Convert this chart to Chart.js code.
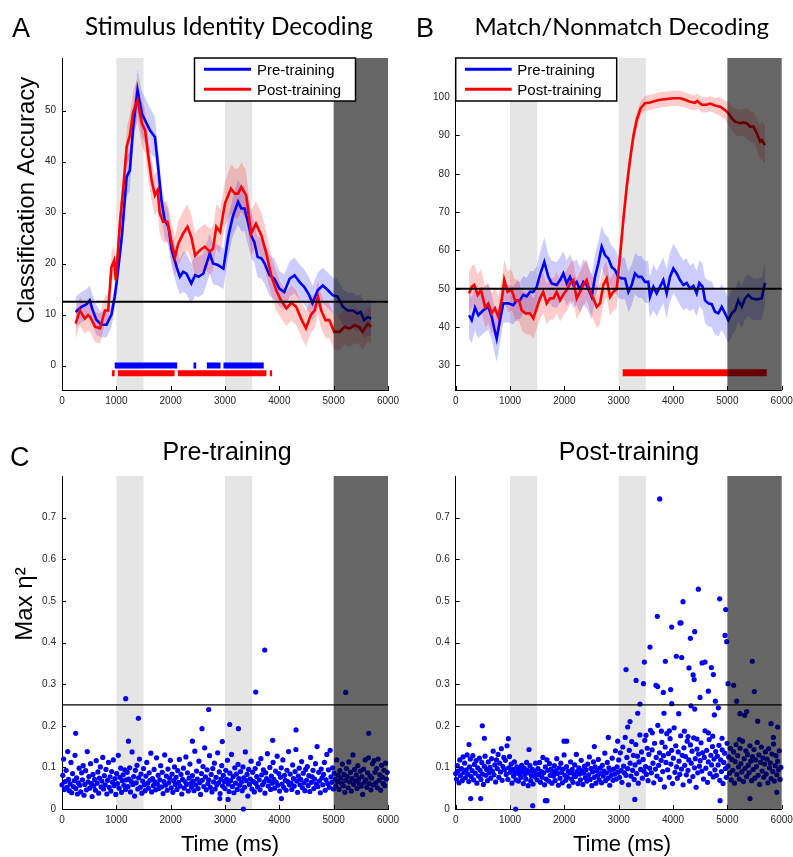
<!DOCTYPE html>
<html>
<head>
<meta charset="utf-8">
<script src="https://cdn.jsdelivr.net/npm/chart.js@4.4.1/dist/chart.umd.min.js"></script>
<style>
  body { margin: 0; background: #fff; }
  #wrap { position: relative; width: 793px; height: 857px; overflow: hidden; }
  canvas { position: absolute; }
</style>
</head>
<body>
<div id="wrap">
  <canvas id="chartA" width="400" height="430" style="left:0;top:0"></canvas>
  <canvas id="chartB" width="393" height="430" style="left:400px;top:0"></canvas>
  <canvas id="chartC1" width="400" height="437" style="left:0;top:420px"></canvas>
  <canvas id="chartC2" width="393" height="437" style="left:400px;top:420px"></canvas>
</div>
<script>
// trial epochs (ms): sample / test stimulus, then the late period
const stimEpochs = [[1000, 1500], [3000, 3500]];
const lateEpoch = [5000, 6000];
const seriesNames = ['Pre-training', 'Post-training'];

// A - stimulus identity decoding (% correct), mean and band half-width
const idPreTime = [250,360,450,510,560,630,720,820,910,970,1010,1100,1190,1250,1310,1390,1470,1560,1620,1710,
  1770,1830,1890,1960,2020,2110,2170,2230,2290,2380,2450,2510,2600,2660,2720,2780,2870,2970,3060,3140,
  3240,3300,3360,3420,3480,3540,3600,3670,3730,3820,3910,4000,4090,4190,4280,4370,4460,4550,4610,4710,
  4800,4890,4980,5070,5170,5260,5350,5440,5500,5560,5630,5690];
const idPreAcc = [10.5,11.5,12,12.8,11,9,8,8,10,13.5,16.7,25.2,37,38.3,46.8,54,49.4,47.4,46.1,44.8,
  38.9,32.4,28.5,27.2,22.6,19.3,17.4,18.4,18,16.1,17.7,17.4,18,20,22,20,19.7,19,25.2,29.1,
  32.1,30.8,30.8,28.2,25.5,24.2,21.3,21,20,17.7,17,15.1,14.4,17,17.7,16.4,15.4,13.8,12.2,14.8,
  15.7,14.8,13.8,13.5,11.5,10.8,10.8,10.2,10.5,8.9,9.5,9.2];
const idPreErr = [3,3,3,3,3,3,2.5,2.5,2.5,2.5,3,3,4,4,4,4.5,4.5,4.5,4.5,4,
  4,3.5,3.5,3.5,3.5,3.5,3.5,4,4,4,4,4,4,4,4,4,4,4,4,4,
  4.5,4.5,4.5,4.5,4.5,4,4,4,4,4,4,3.5,3.5,3.5,3.5,3.5,3.5,3.5,3.5,3.5,
  3.5,3.5,3.5,3.5,3.5,3.5,3.5,3.5,3.5,3.5,3.5,3.5];

const idPostTime = [250,330,420,480,520,610,700,790,850,910,960,990,1070,1130,1190,1250,1310,1390,1470,1530,
  1590,1650,1710,1760,1800,1860,1940,2020,2080,2140,2230,2310,2380,2450,2540,2630,2720,2780,2840,2910,
  3000,3110,3180,3240,3300,3390,3480,3570,3670,3760,3850,3940,4030,4130,4220,4310,4400,4490,4580,4650,
  4710,4770,4850,4920,5010,5110,5200,5290,5380,5470,5530,5630,5690];
const idPostAcc = [8.2,10.8,9.2,9.9,9.5,7.6,7.3,10.8,10.8,19.3,20.6,16.7,28.5,35,42.9,45.2,49.7,52,47.5,46.1,
  40.9,36.3,33.4,34.4,29.8,28.2,28.2,23.9,21.3,23.9,25.9,27.2,25.2,21.6,22.6,23.3,22.3,22.9,27.2,26.2,
  31.8,34.7,33.7,33.7,35,33.4,25.9,27.8,25.5,22,17.7,14.8,12.8,11.2,12.3,11.5,9.2,7.3,9.9,10.8,
  13.5,10.8,8.9,8.9,6.6,6.6,7.6,7.2,7.9,7.6,6.6,8.2,7.6];
const idPostErr = [3,3,3,3,3,3,3,3,3,3,3,3,3.5,4,4,4.5,4.5,4.5,4.5,4.5,
  4.5,4,4,4,4,4,4,4,4,4.5,4.5,4.5,4.5,4.5,4.5,4.5,4.5,4.5,4.5,4.5,
  4.5,5,5,5,5,5,4.5,4.5,4.5,4.5,4,4,3.5,3.5,3.5,3.5,3.5,3.5,3.5,3.5,
  3.5,3.5,3.5,3.5,3.5,3.5,3.5,3.5,3.5,3.5,3.5,3.5,3.5];

const idChance = 12.5;
// significant decoding periods (ms)
const idPreSig = [[970, 2120], [2420, 2470], [2666, 2917], [2972, 3713]];
const idPostSig = [[919, 970], [1030, 2072], [2133, 3763], [3824, 3867]];

// B - match/nonmatch decoding (% correct)
const mnPreTime = [245,294,355,417,508,600,662,723,754,815,876,968,1060,1122,1183,1244,1306,1367,1429,1490,
  1551,1631,1705,1766,1858,1920,1981,2043,2104,2165,2227,2288,2349,2411,2503,2564,2625,2687,2748,2809,
  2871,2932,2993,3055,3116,3178,3239,3300,3361,3423,3484,3545,3576,3638,3699,3760,3821,3883,3944,4006,
  4067,4128,4190,4251,4312,4374,4435,4483,4546,4588,4649,4712,4773,4834,4896,4957,5018,5080,5141,5202,
  5264,5325,5386,5448,5540,5632,5693];
const mnPreAcc = [43.1,41.8,45.1,43.1,44.4,45.3,42.7,38.8,37,41.8,46.2,46.2,45.7,47,47,48.4,48,49.2,49.2,50.5,
  53.6,57,53.1,51.4,51,52.3,54,51.4,53.1,51,51.8,49.7,51.8,51,47.9,53.1,56.6,61,58.8,57.9,
  55.7,54.9,53.1,52.7,52.7,49.2,51,54,53.1,53.1,51.8,51.8,47.9,50.5,48.8,50.5,52.3,48.8,53.1,55.3,
  54,52.3,51,51.5,50.1,50.8,48.8,51.5,50.5,47,46.2,46,44,43.6,45.3,43.6,41.8,43.6,44.4,47,
  45.3,47.5,48.4,47.5,47.2,47.5,51.6];
const mnPreErr = [6,6,6,6,6,6,6,6,6,6,5,5,5,5,5,5,5,5.5,5.5,5.5,
  6,6.5,6,6,6,6,6,6,6,6,6,6,6,6,6,6,6,5.5,5.5,5.5,
  5.5,5.5,5.5,5.5,5.5,5.5,5.5,5.5,5.5,5.5,5.5,5.5,5.5,6,6,6,6,6.5,6.5,6.5,
  6.5,6.5,6.5,6.5,6,6,6,6,6,6,6,6,6,6,6,6,6,6,5.5,5.5,
  5.5,5.5,5.5,5.5,5.5,5.5,5.5];

const mnPostTime = [245,294,342,405,466,539,600,662,723,784,847,894,957,1031,1091,1165,1215,1288,1367,1429,
  1490,1551,1612,1675,1736,1797,1859,1920,1981,2043,2104,2165,2227,2288,2349,2411,2472,2533,2595,2656,
  2717,2779,2840,2901,2963,3024,3085,3147,3208,3269,3331,3405,3484,3576,3668,3760,3883,4006,4128,4220,
  4312,4404,4447,4528,4620,4681,4773,4865,4957,5018,5080,5141,5233,5294,5356,5417,5478,5540,5601,5632,
  5693];
const mnPostAcc = [48.8,50.5,51,48.4,49.7,45.3,46.2,43.6,44.9,42.7,47,52.3,49.2,49.7,47,47,44.4,43.6,43.6,42.3,
  44.9,47.5,49.2,46.2,47.5,47.5,49.2,47,48.5,49.7,51.4,52.3,47.5,49.2,51,52.3,49.2,47.5,45.3,46.2,
  51,52.7,47.9,49.2,50,58.4,67.9,76.6,83.6,89.7,94,97.1,98.4,98.6,99,99.3,99.5,99.7,99.7,99.3,
  98.8,98.5,99,98,98,98.3,97.8,97.5,96.6,95.8,94.5,93.6,93.2,93.4,93.2,92.3,92.3,90.6,88.4,88.8,
  87.5];
const mnPostErr = [5.5,5.5,5.5,5.5,5.5,5.5,5.5,5.5,5.5,5.5,5.5,5.5,5.5,5.5,5.5,5.5,5.5,5.5,5.5,5.5,
  5.5,5.5,5.5,5.5,5.5,5.5,5.5,5.5,5.5,5.5,5.5,5.5,5.5,5.5,5.5,5.5,5.5,5.5,5.5,5.5,
  5,5,5,5,5,5,4,4,3.5,3,2.5,2,2,2,2,2,2,2,2,2,
  2,2,2,2,2,2,2,2.5,2.5,3,3,3.5,3.5,3.5,4,4,4,4,4.5,5,
  5];

const mnChance = 50;
const mnPostSig = [[3074, 5724]];

// C - max eta squared per time bin (one value every 15 ms from 0 ms)
const etaStep = 15;
const etaPre = [
  .058,.081,.120,.047,.066,.093,.052,.138,.071,.044,.060,.112,.039,.085,.054,.068,.129,.049,.075,.036,
  .063,.098,.057,.041,.087,.070,.104,.033,.059,.092,.046,.138,.065,.078,.050,.109,.061,.030,.083,.055,
  .071,.045,.116,.062,.089,.038,.074,.101,.053,.067,.124,.048,.080,.058,.095,.036,.069,.112,.052,.077,
  .043,.090,.064,.118,.056,.073,.035,.085,.061,.129,.050,.076,.098,.040,.068,.082,.057,.094,.047,.070,
  .088,.054,.072,.099,.041,.066,.137,.059,.078,.031,.093,.063,.105,.048,.075,.120,.052,.084,.038,.067,
  .097,.058,.044,.079,.112,.062,.050,.087,.069,.134,.041,.073,.056,.095,.065,.046,.123,.060,.081,.049,
  .070,.104,.053,.088,.037,.066,.130,.057,.079,.045,.096,.063,.074,.117,.051,.084,.040,.068,.101,.059,
  .076,.047,.092,.064,.119,.055,.083,.036,.071,.098,.050,.066,.125,.059,.087,.043,.074,.108,.061,.052,
  .080,.067,.044,.139,.058,.091,.072,.049,.115,.063,.035,.085,.069,.102,.054,.147,.077,.046,.094,.061,
  .070,.128,.052,.083,.041,.097,.065,.110,.048,.076,.058,.135,.063,.089,.037,.072,.104,.055,.081,.066,
  .049,.093,.071,.117,.060,.042,.086,.068,.131,.054,.078,.039,.099,.062,.084,.047,.107,.073,.057,.090,
  .064,.044,.101,.075,.052,.137,.068,.083,.031,.095,.059,.072,.115,.048,.088,.066,.041,.097,.061,.078,
  .053,.109,.070,.046,.121,.082,.058,.094,.065,.038,.087,.073,.133,.055,.068,.100,.047,.079,.062,.112,
  .071,.050,.091,.064,.127,.057,.085,.043,.076,.099,.060,.118,.052,.081,.069,.045,.093,.066,.138,.058,
  .084,.062,.047,.106,.073,.055,.090,.143,.067,.040,.079,.098,.058,.071,.114,.051,.086,.063,.044,.095,
  .069,.102,.056,.080,.042,.124,.064,.077,.093,.049,.072,.109,.060,.150,.054,.088,.067,.039,.096,.075,
  .058,.083,.112,.045,.070,.131,.061,.094,.052,.141,.077,.064,.099,.048,.086,.071,.055,.118,.066,.081,
  .047,.092,.074,.061,.108,.056,.083,.040,.069,.097,.078,.051,.113,.065,.088,.043,.073,.130,.059,.095,
  .067,.082,.049,.104,.072,.060,.091,.055,.078,.035,.096,.064,.118,.070,.052,.087,.123,.061,.079,.046,
  .074,.109,.058,.116,.088,.063,.097,.051,.120,.069,.082,.045,.105,.076,.061,.093,.056,.110,.072,.088];
const etaPreOutTime = [252,1172,1223,1406,2400,2577,2700,2904,2950,3056,3087,3246,3339,3565,3731,3878,4038,4307,5222,5645];
const etaPreOut = [.182,.265,.163,.218,.163,.193,.239,.025,.162,.023,.203,.193,0,.281,.382,.165,.025,.190,.280,.182];

const etaPost = [
  .085,.072,.104,.091,.063,.118,.080,.097,.068,.125,.088,.110,.075,.094,.130,.083,.066,.101,.120,.078,
  .092,.128,.070,.107,.086,.116,.062,.099,.079,.122,.093,.071,.112,.084,.059,.103,.127,.081,.095,.068,
  .113,.087,.100,.074,.121,.091,.139,.082,.106,.065,.118,.097,.131,.076,.110,.089,.145,.069,.102,.124,
  .094,.117,.083,.152,.071,.099,.126,.088,.108,.062,.095,.079,.113,.086,.070,.101,.091,.067,.084,.097,
  .076,.105,.089,.061,.098,.083,.072,.112,.093,.056,.087,.104,.068,.080,.095,.060,.091,.078,.110,.085,
  .070,.097,.083,.112,.064,.090,.076,.124,.087,.058,.101,.072,.118,.093,.067,.109,.081,.096,.062,.088,
  .079,.104,.068,.092,.121,.085,.057,.099,.074,.110,.088,.063,.096,.130,.081,.069,.102,.076,.091,.055,
  .087,.113,.072,.095,.064,.083,.106,.078,.131,.090,.061,.099,.084,.070,.117,.092,.059,.086,.103,.075,
  .094,.067,.108,.082,.125,.071,.097,.056,.089,.113,.076,.101,.062,.092,.080,.119,.070,.098,.085,.063,
  .105,.079,.091,.134,.068,.087,.112,.074,.099,.057,.093,.081,.122,.069,.096,.084,.140,.072,.101,.088,
  .118,.076,.135,.092,.064,.149,.103,.087,.172,.081,.124,.097,.058,.141,.110,.079,.162,.093,.129,.071,
  .106,.155,.085,.127,.062,.113,.178,.095,.137,.074,.119,.091,.165,.102,.083,.146,.068,.131,.098,.189,
  .087,.142,.110,.063,.158,.096,.124,.079,.201,.105,.135,.071,.117,.160,.090,.128,.053,.149,.112,.181,
  .094,.133,.076,.169,.108,.141,.061,.122,.195,.088,.152,.101,.074,.137,.115,.083,.176,.096,.129,.058,
  .147,.105,.126,.082,.163,.093,.118,.067,.154,.110,.139,.078,.171,.099,.121,.052,.144,.087,.132,.103,
  .116,.159,.091,.135,.072,.124,.188,.098,.141,.064,.113,.167,.085,.129,.106,.150,.077,.120,.094,.138,
  .081,.127,.106,.153,.069,.118,.090,.142,.061,.112,.134,.097,.076,.158,.103,.125,.086,.146,.070,.119,
  .093,.137,.062,.114,.155,.083,.128,.101,.072,.146,.109,.089,.163,.066,.121,.097,.140,.078,.131,.105,
  .087,.152,.115,.068,.126,.095,.143,.074,.118,.102,.160,.081,.130,.059,.112,.149,.091,.123,.076,.108,
  .137,.084,.120,.063,.145,.099,.111,.073,.132,.090,.156,.067,.104,.128,.082,.115,.094,.140,.071,.100];
const etaPostOutTime = [245,276,460,490,527,968,1104,1349,1417,1650,1680,1993,2043,2552,2809,2981,
  3135,3165,3208,3296,3320,3350,3392,3456,3472,3503,3576,3620,3686,3711,3717,3755,3785,3821,3833,3858,
  3932,3956,3975,3975,4061,4104,4128,4147,4160,4184,4209,4276,4294,4319,4331,4370,4388,4399,4399,4441,
  4466,4497,4534,4589,4650,4650,4705,4730,4742,4761,4779,4834,4859,4866,4902,4957,4969,4988,5012,5115,
  5171,5221,5233,5319,5356,5417,5459,5496,5558,5803,5846,5908,5926];
const etaPostOut = [.155,.025,.025,.200,.170,.169,0,.143,.008,.020,.020,.163,.163,.150,.172,.163,
  .335,.197,.210,.023,.309,.230,.252,.301,.353,.177,.389,.183,.297,.463,.294,.745,.187,.280,.230,.355,
  .188,.287,.437,.253,.367,.229,.447,.447,.364,.498,.187,.174,.339,.410,.248,.322,.311,.426,.240,.168,
  .528,.268,.351,.353,.283,.183,.340,.175,.323,.226,.259,.243,.505,.020,.170,.417,.479,.402,.301,.297,
  .259,.167,.229,.225,.234,.025,.355,.282,.211,.205,.172,.040,.197];
const etaThreshold = 0.25;

// ---- dataset builders ----
const xy = (t, v) => t.map((x, i) => ({ x: x, y: v[i] }));

function trace(t, v, color) {
  return { data: xy(t, v), borderColor: color, borderWidth: 2.6, pointRadius: 0, fill: false, tension: 0 };
}

function band(t, v, e, color) {
  return [
    { data: t.map((x, i) => ({ x: x, y: v[i] + e[i] })), borderColor: 'rgba(255,255,255,0.35)', borderWidth: 1,
      backgroundColor: color, pointRadius: 0, fill: '+1' },
    { data: t.map((x, i) => ({ x: x, y: v[i] - e[i] })), borderColor: 'rgba(255,255,255,0.35)', borderWidth: 1,
      pointRadius: 0, fill: false }
  ];
}

function sigBar(segs, level, color, width) {
  const d = [];
  segs.forEach(s => { d.push({ x: s[0], y: level }, { x: s[1], y: level }, { x: s[1], y: null }); });
  return { data: d, borderColor: color, borderWidth: width, borderCapStyle: 'butt', pointRadius: 0, fill: false, spanGaps: false };
}

function dots(t, v) {
  return { data: xy(t, v), showLine: false, pointRadius: 2.6, pointBackgroundColor: '#0000ff',
    pointBorderColor: '#0000ff', pointBorderWidth: 0, borderColor: '#0000ff', clip: 6 };
}

const BLUE = '#0000ff', RED = '#ff0000';
const BLUE_BAND = 'rgba(0,0,255,0.2)', RED_BAND = 'rgba(255,0,0,0.2)';
const tickFont = { family: "'Liberation Sans', Arial, sans-serif", size: 10 };
const HELV = '"Liberation Sans", Arial, sans-serif';

// ---- per-panel decoration (layout only) ----
const decorCfg = {
  chartA: {
    ref: idChance, refWidth: 2,
    legend: { box: [194.5, 58, 161, 43], lineX: [204, 251], textX: 257, rows: [69.3, 89.3], base: [75, 95] },
    texts: [
      { t: 'A', x: 12, y: 37, font: '27px ' + HELV, align: 'left' },
      { t: 'Stimulus Identity Decoding', x: 229, y: 35, font: '24.3px Lato, sans-serif', align: 'center' },
      { t: 'Classification Accuracy', x: 34, y: 200, font: '24px ' + HELV, align: 'center', rot: true }
    ]
  },
  chartB: {
    ref: mnChance, refWidth: 2,
    legend: { box: [55.7, 58, 161, 43], lineX: [65, 111.7], textX: 117.3, rows: [69.3, 89.3], base: [75, 95] },
    texts: [
      { t: 'B', x: 16, y: 37, font: '27px ' + HELV, align: 'left' },
      { t: 'Match/Nonmatch Decoding', x: 221.7, y: 35, font: '24px Lato, sans-serif', align: 'center' }
    ]
  },
  chartC1: {
    ref: etaThreshold, refWidth: 1.2,
    texts: [
      { t: 'C', x: 10, y: 45.7, font: '27px ' + HELV, align: 'left' },
      { t: 'Pre-training', x: 227, y: 40, font: '25px ' + HELV, align: 'center' },
      { t: 'Max η²', x: 32, y: 184, font: '24px ' + HELV, align: 'center', rot: true },
      { t: 'Time (ms)', x: 230, y: 431, font: '22px ' + HELV, align: 'center' }
    ]
  },
  chartC2: {
    ref: etaThreshold, refWidth: 1.2,
    texts: [
      { t: 'Post-training', x: 229, y: 40, font: '25px ' + HELV, align: 'center' },
      { t: 'Time (ms)', x: 222, y: 431, font: '22px ' + HELV, align: 'center' }
    ]
  }
};

const decor = {
  id: 'decor',
  beforeDatasetsDraw(chart) {
    const { ctx, chartArea: a, scales: { x } } = chart;
    ctx.save();
    ctx.fillStyle = '#e5e5e5';
    stimEpochs.forEach(([s, e]) => {
      const l = x.getPixelForValue(s), r = x.getPixelForValue(e);
      ctx.fillRect(l, a.top, r - l, a.bottom - a.top);
    });
    ctx.restore();
  },
  afterDatasetsDraw(chart) {
    const o = decorCfg[chart.canvas.id];
    const { ctx, chartArea: a, scales: { x, y } } = chart;
    ctx.save();
    // chance / threshold line
    const ry = y.getPixelForValue(o.ref);
    ctx.strokeStyle = '#000';
    ctx.lineWidth = o.refWidth;
    ctx.beginPath(); ctx.moveTo(a.left, ry); ctx.lineTo(a.right, ry); ctx.stroke();
    // late period, drawn over the data
    const l = x.getPixelForValue(lateEpoch[0]), r = x.getPixelForValue(lateEpoch[1]);
    ctx.fillStyle = 'rgba(0,0,0,0.6)';
    ctx.fillRect(l, a.top, r - l, a.bottom - a.top);
    // inward tick marks
    ctx.lineWidth = 1;
    ctx.beginPath();
    x.ticks.forEach(t => { const p = Math.round(x.getPixelForValue(t.value)) + 0.5; ctx.moveTo(p, a.bottom); ctx.lineTo(p, a.bottom - 4); });
    y.ticks.forEach(t => { const p = Math.round(y.getPixelForValue(t.value)) + 0.5; ctx.moveTo(a.left, p); ctx.lineTo(a.left + 4, p); });
    ctx.stroke();
    // legend box
    if (o.legend) {
      const g = o.legend;
      ctx.fillStyle = '#fff';
      ctx.fillRect(g.box[0], g.box[1], g.box[2], g.box[3]);
      ctx.strokeStyle = '#000'; ctx.lineWidth = 1.5;
      ctx.strokeRect(g.box[0], g.box[1], g.box[2], g.box[3]);
      [BLUE, RED].forEach((c, i) => {
        ctx.strokeStyle = c; ctx.lineWidth = 3;
        ctx.beginPath(); ctx.moveTo(g.lineX[0], g.rows[i]); ctx.lineTo(g.lineX[1], g.rows[i]); ctx.stroke();
        ctx.fillStyle = '#000'; ctx.font = '15px ' + HELV;
        ctx.textAlign = 'left'; ctx.textBaseline = 'alphabetic';
        ctx.fillText(seriesNames[i], g.textX, g.base[i]);
      });
    }
    ctx.restore();
  },
  afterDraw(chart) {
    const o = decorCfg[chart.canvas.id];
    const ctx = chart.ctx;
    o.texts.forEach(s => {
      ctx.save();
      ctx.fillStyle = '#000';
      ctx.font = s.font;
      ctx.textAlign = s.align;
      ctx.textBaseline = 'alphabetic';
      ctx.translate(s.x, s.y);
      if (s.rot) ctx.rotate(-Math.PI / 2);
      ctx.fillText(s.t, 0, 0);
      ctx.restore();
    });
  }
};

function makeChart(id, datasets, yOpt, box) {
  return new Chart(document.getElementById(id), {
    type: 'line',
    data: { datasets: datasets },
    options: {
      responsive: false,
      animation: false,
      devicePixelRatio: 1,
      events: [],
      layout: { padding: { left: 0, right: box.right, top: box.top, bottom: 0 } },
      plugins: { legend: { display: false }, tooltip: { enabled: false }, title: { display: false } },
      scales: {
        x: {
          type: 'linear', min: 0, max: 6000,
          ticks: { stepSize: 1000, padding: 5, font: tickFont, color: '#262626', maxRotation: 0, autoSkip: false,
            format: { useGrouping: false } },
          grid: { display: false, drawTicks: false },
          border: { display: true, color: '#000', width: 1 },
          afterFit(s) { s.height = box.xH; s.paddingLeft = 0; s.paddingRight = 0; }
        },
        y: {
          type: 'linear', min: yOpt.min, max: yOpt.max,
          ticks: { stepSize: yOpt.step, includeBounds: false, padding: 6, font: tickFont, color: '#262626' },
          grid: { display: false, drawTicks: false },
          border: { display: true, color: '#000', width: 1 },
          afterBuildTicks(s) { s.ticks = s.ticks.filter(t => t.value <= yOpt.lastLabel + 1e-9); },
          afterFit(s) { s.width = box.yW; s.paddingTop = 0; s.paddingBottom = 0; }
        }
      }
    },
    plugins: [decor]
  });
}

makeChart('chartA', [
  trace(idPostTime, idPostAcc, RED),
  trace(idPreTime, idPreAcc, BLUE),
  sigBar(idPreSig, 0, BLUE, 6),
  sigBar(idPostSig, -1.5, RED, 6),
  ...band(idPostTime, idPostAcc, idPostErr, RED_BAND),
  ...band(idPreTime, idPreAcc, idPreErr, BLUE_BAND)
], { min: -4.8, max: 60.3, step: 10, lastLabel: 50 }, { top: 58, right: 12, yW: 62, xH: 40 });

makeChart('chartB', [
  trace(mnPostTime, mnPostAcc, RED),
  trace(mnPreTime, mnPreAcc, BLUE),
  sigBar(mnPostSig, 28.1, RED, 7),
  ...band(mnPostTime, mnPostAcc, mnPostErr, RED_BAND),
  ...band(mnPreTime, mnPreAcc, mnPreErr, BLUE_BAND)
], { min: 23.6, max: 110.2, step: 10, lastLabel: 100 }, { top: 58, right: 11.3, yW: 55.7, xH: 40 });

const etaTime = etaPre.map((_, i) => i * etaStep);

makeChart('chartC1', [
  dots(etaTime, etaPre),
  dots(etaPreOutTime, etaPreOut)
], { min: 0, max: 0.8, step: 0.1, lastLabel: 0.7 }, { top: 56, right: 12, yW: 62, xH: 48 });

makeChart('chartC2', [
  dots(etaPost.map((_, i) => i * etaStep), etaPost),
  dots(etaPostOutTime, etaPostOut)
], { min: 0, max: 0.8, step: 0.1, lastLabel: 0.7 }, { top: 56, right: 11.3, yW: 55.7, xH: 48 });
</script>
</body>
</html>
